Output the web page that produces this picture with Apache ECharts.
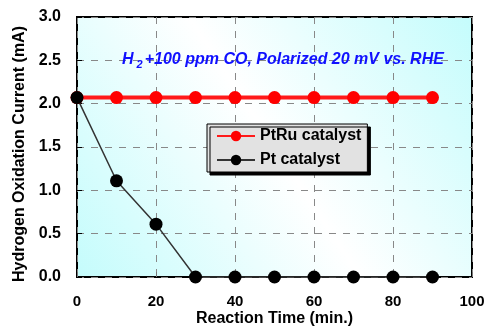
<!DOCTYPE html>
<html><head><meta charset="utf-8">
<script src="https://cdn.jsdelivr.net/npm/echarts@6/dist/echarts.min.js"></script>
<style>html,body{margin:0;padding:0;background:#fff}#c{width:486px;height:326px}</style>
</head><body><div id="c"></div>
<script>
var times = [0, 10, 20, 30, 40, 50, 60, 70, 80, 90];
var ptru = [2.07, 2.07, 2.07, 2.07, 2.07, 2.07, 2.07, 2.07, 2.07, 2.07];
var pt = [2.07, 1.11, 0.61, 0, 0, 0, 0, 0, 0, 0];
var seriesNames = ['PtRu catalyst', 'Pt catalyst'];
var xName = 'Reaction Time (min.)';
var yName = 'Hydrogen Oxidation Current (mA)';

var chart = echarts.init(document.getElementById('c'), null, {renderer: 'canvas'});
var font = 'Arial, "Liberation Sans", sans-serif';
function pairs(xs, ys){ return xs.map(function(x,i){return [x, ys[i]];}); }
chart.setOption({
  animation: false,
  backgroundColor: '#fff',
  grid: {
    left: 77, right: 14, top: 17, bottom: 49,
    containLabel: false, outerBoundsMode: 'none',
    show: true,
    borderColor: '#000', borderWidth: 2,
    backgroundColor: new echarts.graphic.LinearGradient(0, 1, 1, 0, [
      {offset: 0, color: 'rgb(196,252,252)'},
      {offset: 0.5, color: 'rgb(255,255,255)'},
      {offset: 1, color: 'rgb(196,252,252)'}
    ])
  },
  xAxis: {
    type: 'value', min: 0, max: 100, interval: 20,
    name: xName, nameLocation: 'middle', nameGap: 34, nameMoveOverlap: false,
    nameTextStyle: {fontFamily: font, fontWeight: 'bold', fontSize: 16, color: '#000'},
    axisLine: {show: false},
    axisTick: {inside: true, length: 5, lineStyle: {color: '#777'}},
    axisLabel: {fontFamily: font, fontWeight: 'bold', fontSize: 15, color: '#000', margin: 17},
    splitLine: {show: true, lineStyle: {color: '#888', type: [7, 7], width: 1}}
  },
  yAxis: {
    type: 'value', min: 0, max: 3, interval: 0.5,
    name: yName, nameLocation: 'middle', nameGap: 49, nameMoveOverlap: false,
    nameTextStyle: {fontFamily: font, fontWeight: 'bold', fontSize: 16, color: '#000', padding: [0, 14, 0, 0]},
    axisLine: {show: false},
    axisTick: {inside: true, length: 5, lineStyle: {color: '#000'}},
    axisLabel: {fontFamily: font, fontWeight: 'bold', fontSize: 16, color: '#000', margin: 16,
      formatter: function(v){ return v.toFixed(1); }},
    splitLine: {show: true, lineStyle: {color: '#888', type: [7, 7], width: 1}}
  },
  legend: {
    orient: 'vertical', left: 207, top: 124,
    itemWidth: 38, itemHeight: 13, itemGap: 8,
    padding: [4, 6, 4, 9],
    backgroundColor: '#e2e2e2', borderColor: '#000', borderWidth: 1,
    shadowColor: '#000', shadowBlur: 0, shadowOffsetX: 3, shadowOffsetY: 3,
    textStyle: {fontFamily: font, fontWeight: 'bold', fontSize: 16, color: '#000'},
    data: seriesNames
  },
  graphic: [{
    type: 'text', left: 122, top: 52, z: 10,
    style: {
      text: '{a|H}{s|2}{a|+100 ppm CO, Polarized 20 mV vs. RHE}',
      rich: {
        a: {fontFamily: font, fontWeight: 'bold', fontStyle: 'italic', fontSize: 16, fill: '#1010ff', color: '#1010ff'},
        s: {fontFamily: font, fontWeight: 'bold', fontStyle: 'italic', fontSize: 11, fill: '#1010ff', color: '#1010ff', padding: [9, 2, 0, 3]}
      }
    }
  }],
  series: [{
    name: seriesNames[0], type: 'line', data: pairs(times, ptru),
    symbol: 'circle', symbolSize: 13, clip: false,
    itemStyle: {color: '#ff0000'},
    lineStyle: {color: '#ff1a1a', width: 4}
  }, {
    name: seriesNames[1], type: 'line', data: pairs(times, pt),
    symbol: 'circle', symbolSize: 13, clip: false,
    itemStyle: {color: '#000'},
    lineStyle: {color: '#333', width: 1.5}
  }]
});
</script></body></html>
